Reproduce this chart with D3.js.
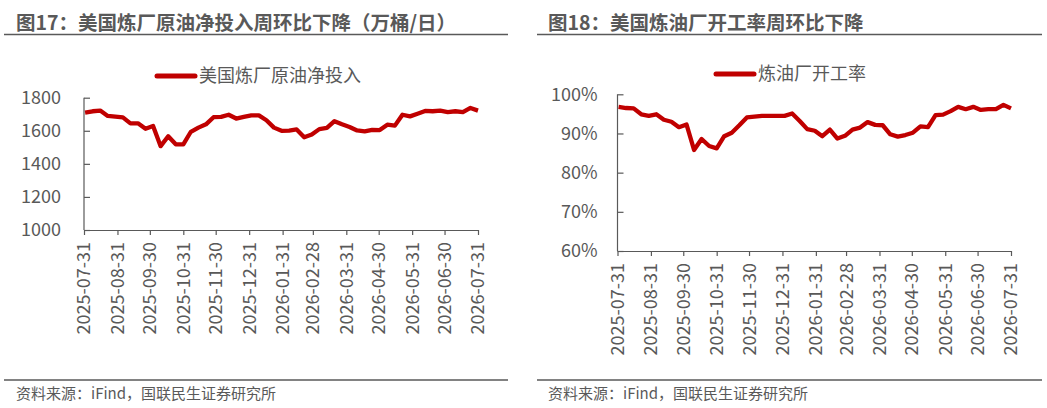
<!DOCTYPE html>
<html><head><meta charset="utf-8">
<script src="https://cdn.jsdelivr.net/npm/d3@7"></script>
<style>
body{margin:0;background:#fff;}
svg{display:block;font-family:"Noto Sans CJK SC","Noto Sans",sans-serif;}
</style></head>
<body><svg id="c" width="1047" height="408"></svg>
<script>
// ---- data ----
const startDate = "2025-08-01"; // first weekly observation (Fridays)
const weeks = 53;
const inputValues = [1710,1718,1722,1690,1685,1681,1645,1645,1612,1629,1507,1567,1518,1518,1594,1619,1639,1682,1684,1697,1674,1684,1693,1693,1664,1619,1600,1601,1608,1561,1577,1610,1617,1658,1639,1623,1602,1596,1606,1604,1637,1631,1697,1687,1703,1720,1718,1722,1713,1718,1713,1738,1722];
const utilValues = [96.8,96.5,96.4,94.9,94.5,94.9,93.5,93.0,91.6,92.3,85.8,88.6,86.8,86.2,89.3,90.2,92.1,94.1,94.3,94.5,94.5,94.5,94.5,95.1,93.2,91.1,90.7,89.3,91.0,88.7,89.4,91.0,91.5,92.9,92.2,92.1,89.8,89.2,89.6,90.2,91.8,91.6,94.7,94.8,95.7,96.8,96.2,96.8,96.0,96.2,96.2,97.3,96.4];
const xTickLabels = ["2025-07-31","2025-08-31","2025-09-30","2025-10-31","2025-11-30","2025-12-31","2026-01-31","2026-02-28","2026-03-31","2026-04-30","2026-05-31","2026-06-30","2026-07-31"];
const inputTicks = [1000,1200,1400,1600,1800];
const utilTicks = [60,70,80,90,100];
const titles = ["图17：美国炼厂原油净投入周环比下降（万桶/日）","图18：美国炼油厂开工率周环比下降"];
const legends = ["美国炼厂原油净投入","炼油厂开工率"];
const sourceText = "资料来源：iFind，国联民生证券研究所";

const parse = d3.utcParse("%Y-%m-%d");
const t0 = parse(startDate);
const dates = d3.range(weeks).map(i => d3.utcDay.offset(t0, 7*i));
const tickDates = xTickLabels.map(parse);

const svg = d3.select("#c");
const GRAY = "#595959", RED = "#C00000";

function panel(cfg){
  const g = svg.append("g");
  // title
  g.append("text").attr("x", cfg.titleX).attr("y", 30).text(cfg.title)
   .attr("font-size", 19.5).attr("font-weight", "bold").attr("fill", GRAY);
  g.append("line").attr("x1", cfg.lineX0).attr("x2", cfg.lineX1).attr("y1", 34.5).attr("y2", 34.5)
   .attr("stroke", GRAY).attr("stroke-width", 1.6);
  // footer
  g.append("line").attr("x1", cfg.lineX0).attr("x2", cfg.lineX1).attr("y1", 380).attr("y2", 380)
   .attr("stroke", GRAY).attr("stroke-width", 1.6);
  g.append("text").attr("x", cfg.titleX).attr("y", 399).text(sourceText)
   .attr("font-size", 15).attr("fill", GRAY);

  const x = d3.scaleUtc().domain([tickDates[0], tickDates[tickDates.length-1]]).range([cfg.x0, cfg.x1]);
  const y = d3.scaleLinear().domain(cfg.yDomain).range([cfg.yBottom, cfg.yTop]);

  // y axis (ticks inward)
  const ya = g.append("g").attr("transform", `translate(${cfg.x0},0)`)
    .call(d3.axisRight(y).tickValues(cfg.yTicks).tickSize(6).tickFormat(""));
  ya.select(".domain").attr("d", `M0,${cfg.yTop}V${cfg.yBottom}`);
  ya.selectAll("path,line").attr("stroke", GRAY).attr("stroke-width", 1.2);
  g.selectAll(".ylab").data(cfg.yTicks).join("text").attr("class","ylab")
    .attr("x", cfg.x0 - cfg.labOff).attr("y", d => y(d)).attr("dy", "0.36em")
    .attr("text-anchor", "end").attr("font-size", 18).attr("fill", GRAY)
    .text(cfg.yFormat);

  // x axis
  const xa = g.append("g").attr("transform", `translate(0,${cfg.yBottom})`)
    .call(d3.axisBottom(x).tickValues(tickDates).tickSize(5).tickSizeOuter(0).tickFormat(""));
  xa.selectAll("path,line").attr("stroke", GRAY).attr("stroke-width", 1.2);
  g.selectAll(".xlab").data(tickDates).join("text").attr("class","xlab")
    .attr("transform", (d) => `translate(${x(d)},${cfg.yBottom + 12}) rotate(-90)`)
    .attr("text-anchor", "end").attr("dy", "0.36em").attr("font-size", 18).attr("fill", GRAY)
    .text((d,i) => xTickLabels[i]);

  // line
  const line = d3.line().x((d,i) => x(dates[i])).y(d => y(d));
  g.append("path").datum(cfg.values).attr("d", line).attr("fill", "none")
   .attr("stroke", RED).attr("stroke-width", 4.3).attr("stroke-linejoin", "round");

  // legend
  g.append("line").attr("x1", cfg.legX).attr("x2", cfg.legX + 38).attr("y1", cfg.legY).attr("y2", cfg.legY)
   .attr("stroke", RED).attr("stroke-width", 5).attr("stroke-linecap", "round");
  g.append("text").attr("x", cfg.legX + 42).attr("y", cfg.legY).attr("dy", "0.36em")
   .attr("font-size", 18).attr("fill", GRAY).text(cfg.legend);
}

panel({title: titles[0], titleX: 16, lineX0: 4, lineX1: 508, x0: 84, x1: 478,
  yDomain: [1000,1800], yTop: 97.7, yBottom: 230, yTicks: inputTicks, yFormat: d => d, labOff: 23,
  values: inputValues, legX: 157, legY: 76, legend: legends[0]});
panel({title: titles[1], titleX: 548, lineX0: 537, lineX1: 1042, x0: 617.5, x1: 1011,
  yDomain: [60,100], yTop: 94.3, yBottom: 251, yTicks: utilTicks, yFormat: d => d + "%", labOff: 20,
  values: utilValues, legX: 716, legY: 74, legend: legends[1]});
</script></body></html>
